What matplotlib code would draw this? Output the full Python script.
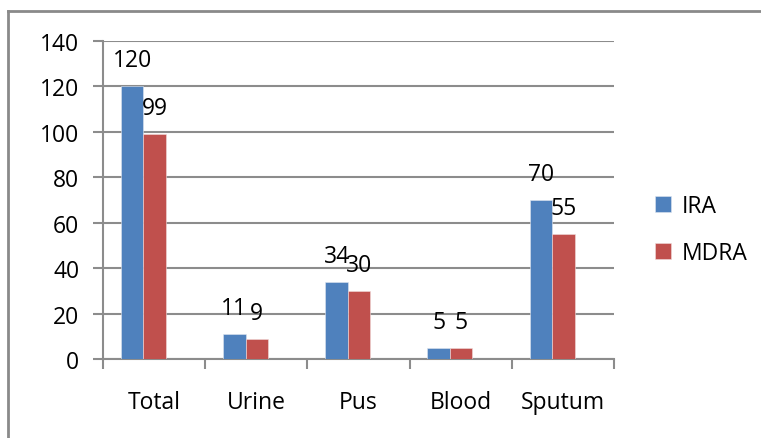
import matplotlib
matplotlib.use("Agg")
import matplotlib.pyplot as plt
from matplotlib.lines import Line2D
import numpy as np

plt.rcParams['font.family'] = ['Open Sans', 'DejaVu Sans']

# data
categories = ['Total', 'Urine', 'Pus', 'Blood', 'Sputum']
ira = [120, 11, 34, 5, 70]
mdra = [99, 9, 30, 5, 55]
y_ticks = [0, 20, 40, 60, 80, 100, 120, 140]

blue = '#4F81BD'
red = '#C0504D'
grid_col = '#8C8C8C'
fs = 16.5

fig = plt.figure(figsize=(7.61, 4.39), dpi=100)
ax = fig.add_axes([103 / 761, 79 / 439, 511 / 761, 318 / 439])

x = np.arange(len(categories))
w = 0.22
shift = -0.105  # the groups sit a bit left of the category centre

b1 = ax.bar(x + shift - w / 2, ira, w, color=blue, edgecolor='#dfe6f0', linewidth=0.4, label='IRA', zorder=3)
b2 = ax.bar(x + shift + w / 2, mdra, w, color=red, edgecolor='#f0dcdc', linewidth=0.4, label='MDRA', zorder=3)

# value labels above bars
for bars, vals in [(b1, ira), (b2, mdra)]:
    for rect, v in zip(bars, vals):
        ax.annotate(str(v), (rect.get_x() + rect.get_width() / 2, v),
                    xytext=(0, 14.4), textcoords='offset points',
                    ha='center', va='baseline', fontsize=fs, zorder=4)

ax.set_xlim(-0.5, len(categories) - 0.5)
ax.set_ylim(0, 140)
ax.set_yticks(y_ticks)
ax.yaxis.grid(True, color=grid_col, linewidth=1.5)
ax.set_axisbelow(True)

# category ticks sit on the boundaries, labels in the middle
ax.set_xticks(np.arange(len(categories) + 1) - 0.5)
ax.set_xticklabels([])
ax.set_xticks(x, minor=True)
ax.set_xticklabels(categories, minor=True)
ax.tick_params(axis='x', which='minor', length=0, pad=22, labelsize=fs)
ax.tick_params(axis='x', which='major', length=7, width=1.5, color=grid_col, direction='out')
ax.tick_params(axis='y', length=7, width=1.5, color=grid_col, labelsize=fs, pad=10)

for s in ['top', 'right']:
    ax.spines[s].set_visible(False)
for s in ['left', 'bottom']:
    ax.spines[s].set_color(grid_col)
    ax.spines[s].set_linewidth(1.5)

leg = ax.legend(loc='center left', bbox_to_anchor=(1.04, 0.408), frameon=False,
                fontsize=fs, handlelength=0.7, handleheight=0.7,
                handletextpad=0.45, labelspacing=1.0)

# outer chart border (left and top only visible)
fig.add_artist(Line2D([8 / 761, 8 / 761], [0, 1 - 12 / 439], transform=fig.transFigure,
                      color='#8a8a8a', linewidth=2))
fig.add_artist(Line2D([8 / 761, 1], [1 - 12 / 439, 1 - 12 / 439], transform=fig.transFigure,
                      color='#8a8a8a', linewidth=2))

fig.savefig('out.png', dpi=100)
